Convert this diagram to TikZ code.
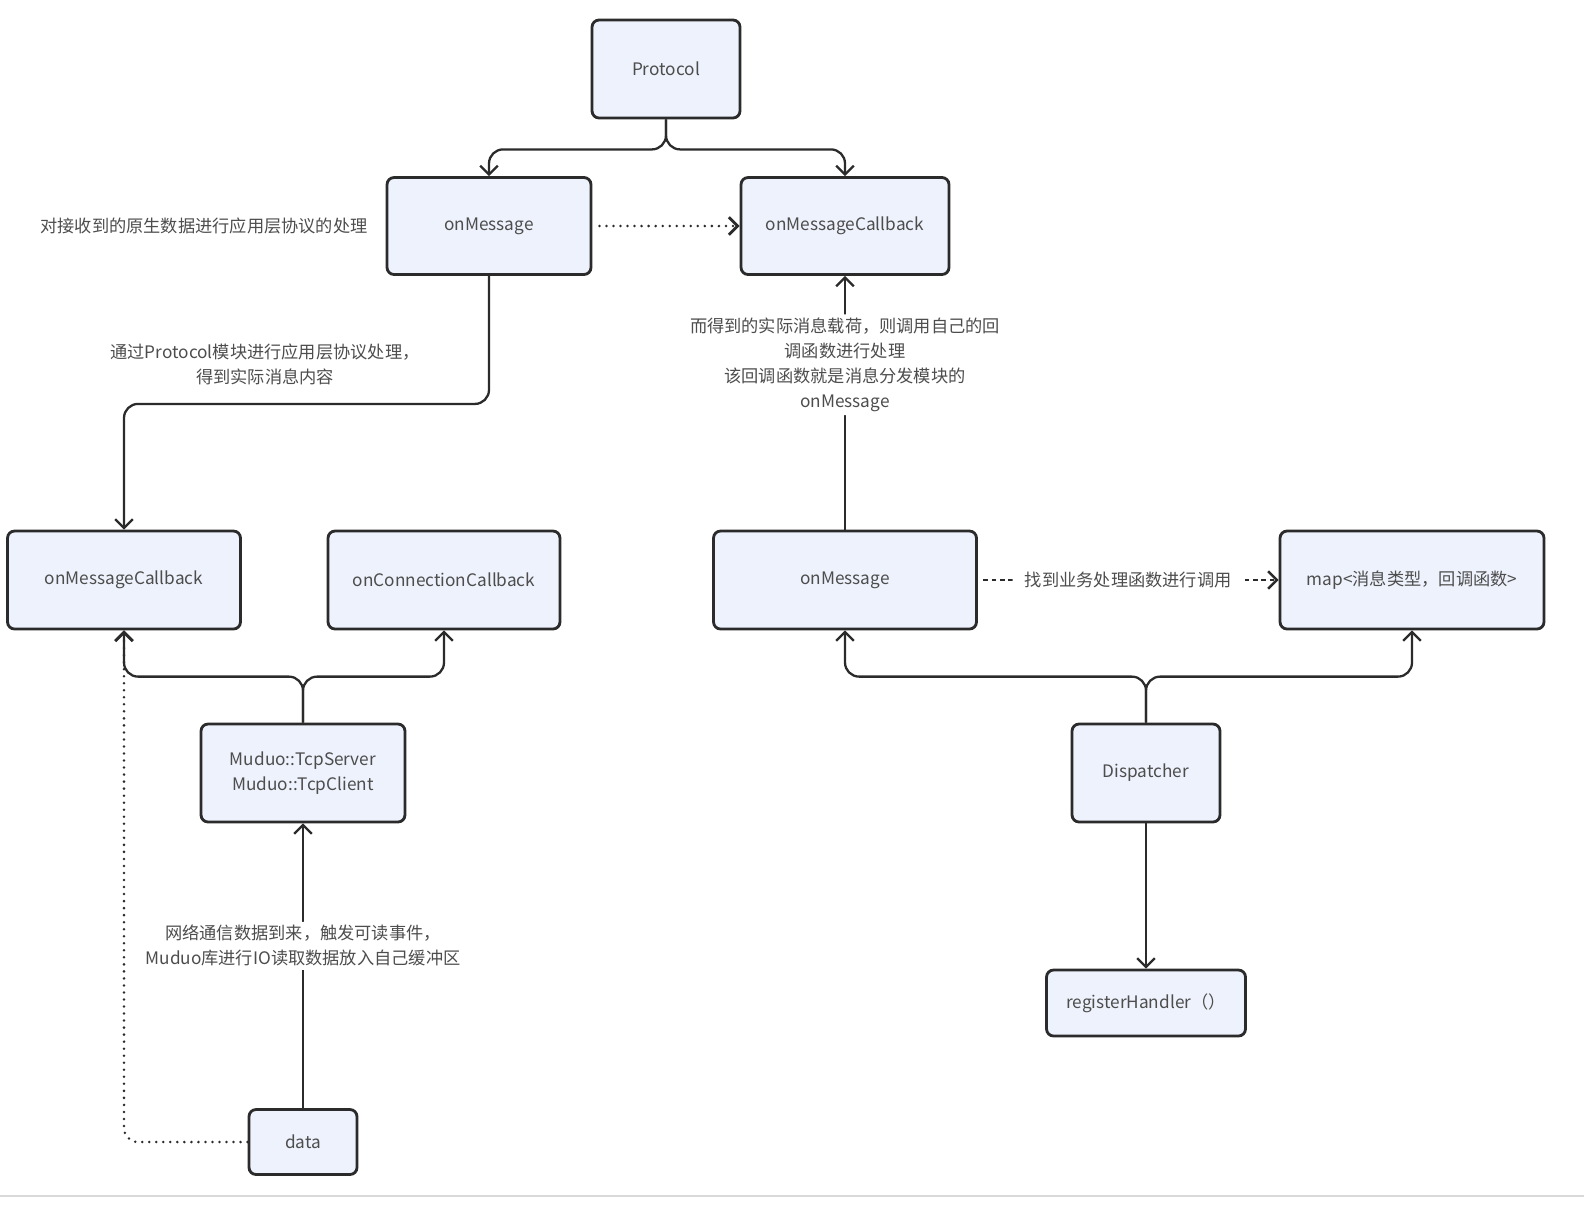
\documentclass[tikz,border=0pt]{standalone}
\usepackage{fontspec}
\setmainfont{Noto Sans CJK SC}
\usetikzlibrary{arrows.meta}

\definecolor{boxfill}{HTML}{EEF2FC}
\definecolor{boxline}{HTML}{2B2B2B}
\definecolor{txtgray}{HTML}{4D4D4D}

\tikzset{
    blk/.style={draw=boxline, line width=1.6pt, fill=boxfill, rounded corners=4pt,
        text=txtgray, font=\fontsize{9.8}{14.2}\selectfont, align=center},
    lnk/.style={draw=boxline, line width=1.3pt, rounded corners=8pt,
        -{Straight Barb[length=5pt,width=10pt]}},
    dots/.style={lnk, line width=1.6pt, line cap=round, dash pattern=on 0pt off 4pt},
    dashes/.style={lnk, line width=1.4pt, dash pattern=on 2.6pt off 2.2pt},
    lbl/.style={text=txtgray, font=\fontsize{9.8}{14.2}\selectfont, align=center,
        fill=white, inner sep=2pt},
}

\begin{document}
\begin{tikzpicture}[x=0.02cm, y=-0.02cm]
    \useasboundingbox (0,0) rectangle (1584,1205);

    % Boxes
    \node[blk, minimum width=2.96cm, minimum height=1.96cm] (proto) at (666,69) {Protocol};
    \node[blk, minimum width=4.08cm, minimum height=1.94cm] (onmsgL) at (489,226) {onMessage};
    \node[blk, minimum width=4.16cm, minimum height=1.94cm] (cbR) at (845,226) {onMessageCallback};
    \node[blk, minimum width=4.66cm, minimum height=1.96cm] (cbL) at (124,580) {onMessageCallback};
    \node[blk, minimum width=4.64cm, minimum height=1.96cm] (conn) at (444,580) {onConnectionCallback};
    \node[blk, minimum width=5.26cm, minimum height=1.96cm] (onmsgR) at (845,580) {onMessage};
    \node[blk, minimum width=5.28cm, minimum height=1.96cm] (map) at (1412,580) {map<消息类型，回调函数>};
    \node[blk, minimum width=4.08cm, minimum height=1.96cm] (muduo) at (303,773) {Muduo::TcpServer\\Muduo::TcpClient};
    \node[blk, minimum width=2.96cm, minimum height=1.96cm] (disp) at (1146,773) {Dispatcher};
    \node[blk, minimum width=3.98cm, minimum height=1.32cm] (reg) at (1146,1003) {registerHandler（）};
    \node[blk, minimum width=2.16cm, minimum height=1.30cm] (data) at (303,1142) {data};

    % Free texts
    \node[lbl, fill=none] (note) at (204,226) {对接收到的原生数据进行应用层协议的处理};
    \node[lbl, fill=none] (protonote) at (265,364) {通过Protocol模块进行应用层协议处理，\\得到实际消息内容};

    % Protocol split
    \draw[lnk] (proto.south) -- ++(0,30) -| (onmsgL.north);
    \draw[lnk] (proto.south) -- ++(0,30) -| (cbR.north);

    % Protocol side
    \draw[dots, shorten <=4pt] (onmsgL.east) -- (cbR.west);
    \draw[lnk] (onmsgL.south) -- ++(0,128) -| (cbL.north);

    % Muduo split
    \draw[lnk] (muduo.north) -- ++(0,-46) -| (cbL.south);
    \draw[lnk] (muduo.north) -- ++(0,-46) -| (conn.south);
    \draw[lnk] (data.north) -- node[lbl, pos=0.57] {网络通信数据到来，触发可读事件，\\Muduo库进行IO读取数据放入自己缓冲区} (muduo.south);
    \draw[dots] (data.west) -| (cbL.south);

    % Dispatcher side
    \draw[lnk] (disp.north) -- ++(0,-46) -| (onmsgR.south);
    \draw[lnk] (disp.north) -- ++(0,-46) -| (map.south);
    \draw[dashes, shorten <=3pt] (onmsgR.east) -- node[lbl, inner xsep=7pt] {找到业务处理函数进行调用} (map.west);
    \draw[lnk] (disp.south) -- (reg.north);
    \draw[lnk] (onmsgR.north) -- node[lbl, pos=0.65] {而得到的实际消息载荷，则调用自己的回\\调函数进行处理\\该回调函数就是消息分发模块的\\onMessage} (cbR.south);

    % Bottom edge
    \draw[black!15, line width=0.8pt] (0,1196) -- (1584,1196);
\end{tikzpicture}
\end{document}
